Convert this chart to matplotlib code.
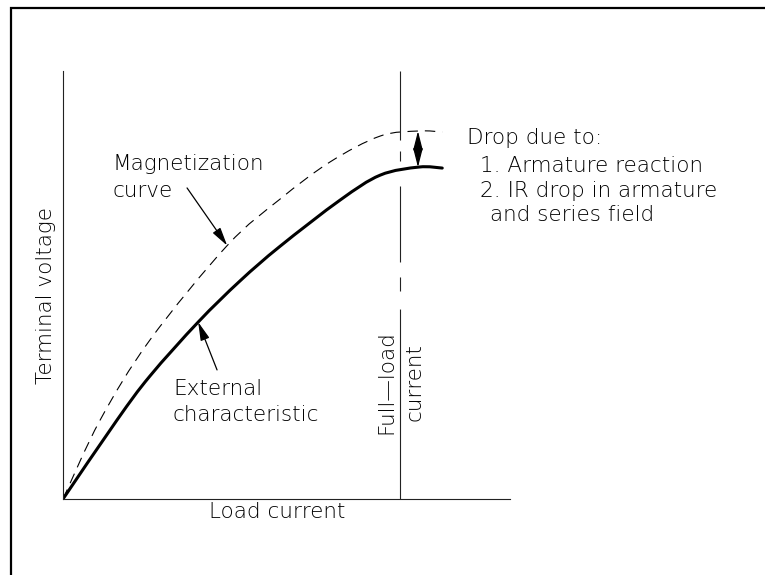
import numpy as np
import matplotlib
matplotlib.use("Agg")
import matplotlib.pyplot as plt
from matplotlib.patches import Rectangle, PathPatch
from matplotlib.path import Path

plt.rcParams['font.family'] = ['DejaVu Sans']
plt.rcParams['lines.scale_dashes'] = False

W, H = 765, 575

# Load current in per-unit of full load, terminal voltage on the same scale
mag_current = [0.0, 0.110, 0.258, 0.487, 0.644, 0.792, 0.941, 1.056, 1.125]
mag_voltage = [0.0, 0.234, 0.472, 0.752, 0.890, 1.000, 1.077, 1.092, 1.089]

ext_current = [0.0, 0.160, 0.258, 0.401, 0.525, 0.644, 0.822, 0.941, 1.056, 1.125]
ext_voltage = [0.0, 0.234, 0.365, 0.525, 0.647, 0.750, 0.887, 0.961, 0.985, 0.982]

full_load = 1.0
x_max, y_max = 1.326, 1.270

drop_notes = ["Drop due to:", "1. Armature reaction", "2. IR drop in armature", "and series field"]


def smooth_path(xs, ys):
    """Cubic Bezier path passing through every given point (Catmull-Rom tangents)."""
    p = np.column_stack([xs, ys]).astype(float)
    n = len(p)
    verts = [p[0]]
    codes = [Path.MOVETO]
    for i in range(n - 1):
        p0 = p[i - 1] if i > 0 else p[i]
        p1, p2 = p[i], p[i + 1]
        p3 = p[i + 2] if i + 2 < n else p[i + 1]
        c1 = p1 + (p2 - p0) / 6.0
        c2 = p2 - (p3 - p1) / 6.0
        verts += [c1, c2, p2]
        codes += [Path.CURVE4] * 3
    return Path(verts, codes)


fig = plt.figure(figsize=(W / 100, H / 100), dpi=100)


def fx(px):
    return px / W


def fy(py):
    return 1 - py / H


# outer frame
fig.add_artist(Rectangle((fx(11), -0.2), 2.0, fy(7.5) + 0.2, transform=fig.transFigure,
                         fill=False, lw=1.6, ec='black'))

ax = fig.add_axes([fx(63), fy(499), fx(510) - fx(63), fy(71) - fy(499)])
ax.set_xlim(0, x_max)
ax.set_ylim(0, y_max)
ax.set_xticks([])
ax.set_yticks([])
for s in ['top', 'right']:
    ax.spines[s].set_visible(False)
for s in ['left', 'bottom']:
    ax.spines[s].set_linewidth(0.8)
    ax.spines[s].set_color('#222222')

# curves
ax.add_patch(PathPatch(smooth_path(mag_current, mag_voltage), fill=False, ec='black',
                       lw=0.8, ls=(0, (7.5, 5.0))))
ax.add_patch(PathPatch(smooth_path(ext_current, ext_voltage), fill=False, ec='black',
                       lw=2.2, capstyle='round', joinstyle='round'))

# full-load centre line
ax.plot([full_load, full_load], [y_max, 0], color='#222222', lw=0.8,
        ls=(0, (49.7, 7.9, 7.2, 18.0, 54.7, 10.8, 10.1, 13.0, 140.0, 10.0)))

fs = 15.5

# arrows
arrow_kw = dict(arrowstyle='-|>,head_length=0.72,head_width=0.18',
                lw=0.9, color='black', shrinkA=0, shrinkB=0)
xm = 0.487
ax.annotate('', xy=(xm, np.interp(xm, mag_current, mag_voltage)), xytext=(0.368, 0.923),
            arrowprops=arrow_kw, fontsize=fs)
xe = 0.401
ax.annotate('', xy=(xe, np.interp(xe, ext_current, ext_voltage)), xytext=(0.457, 0.383),
            arrowprops=arrow_kw, fontsize=fs)
xd = 1.053
ax.annotate('', xy=(xd, np.interp(xd, ext_current, ext_voltage)),
            xytext=(xd, np.interp(xd, mag_current, mag_voltage)),
            arrowprops=dict(arrowstyle='<|-|>,head_length=0.75,head_width=0.19',
                            lw=0.9, color='black', shrinkA=0, shrinkB=0),
            fontsize=fs)

tk = dict(fontsize=fs, color='black', fontweight='light')

fig.text(fx(467), fy(144), drop_notes[0], va='baseline', ha='left', **tk)
fig.text(fx(480), fy(172), drop_notes[1], va='baseline', ha='left', **tk)
fig.text(fx(480), fy(197), drop_notes[2], va='baseline', ha='left', **tk)
fig.text(fx(490), fy(221), drop_notes[3], va='baseline', ha='left', **tk)

fig.text(fx(112), fy(170), "Magnetization", va='baseline', ha='left', **tk)
fig.text(fx(112), fy(197), "curve", va='baseline', ha='left', **tk)
fig.text(fx(173), fy(395), "External", va='baseline', ha='left', **tk)
fig.text(fx(173), fy(421), "characteristic", va='baseline', ha='left', **tk)

fig.text(fx(277), fy(518), "Load current", va='baseline', ha='center', **tk)
fig.text(fx(46), fy(296), "Terminal voltage", va='center', ha='center', rotation=90, **tk)
fig.text(fx(386), fy(382), "Full\u2014load", va='center', ha='center', rotation=90, **tk)
fig.text(fx(414), fy(382), "current", va='center', ha='center', rotation=90, **tk)

fig.savefig('out.png', dpi=100, facecolor='white')
